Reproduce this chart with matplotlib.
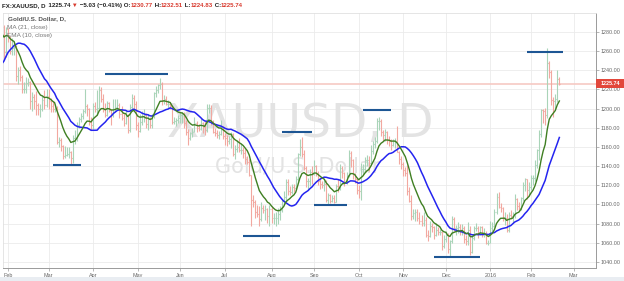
import numpy as np
import pandas as pd
import matplotlib
matplotlib.use("Agg")
import matplotlib.pyplot as plt
from matplotlib.collections import LineCollection
from matplotlib.patches import Rectangle

# ---------------- data (daily OHLC, Dec 29 2014 .. Feb 19 2016) ----------------
opens = [
    1195, 1181, 1200,  # Dec 2014
    1184, 1186, 1204, 1219, 1211, 1208, 1216, 1233, 1234, 1229, 1263, 1277, 1277, 1294, 1294, 1301, 1293, 1280, 1292, 1285, 1259,  # Jan
    1283, 1275, 1260, 1263, 1264, 1234, 1240, 1233, 1220, 1220, 1227, 1228, 1208, 1212, 1208, 1204, 1199, 1200, 1209, 1204,  # Feb
    1213, 1208, 1203, 1199, 1199, 1165, 1167, 1161, 1151, 1152, 1153, 1155, 1148, 1169, 1169, 1183, 1189, 1192, 1197, 1203, 1199, 1186,  # Mar
    1183, 1203, 1200, 1201, 1219, 1210, 1200, 1193, 1206, 1198, 1193, 1199, 1202, 1204, 1194, 1190, 1185, 1193, 1178, 1202, 1211, 1205,  # Apr
    1183, 1177, 1186, 1192, 1193, 1184, 1189, 1183, 1192, 1216, 1219, 1225, 1226, 1208, 1210, 1205, 1205, 1203, 1186, 1187, 1188,  # May
    1190, 1193, 1194, 1185, 1176, 1169, 1174, 1176, 1185, 1180, 1179, 1185, 1181, 1178, 1201, 1201, 1185, 1176, 1174, 1172, 1173, 1179,  # Jun
    1171, 1169, 1166, 1168, 1173, 1153, 1158, 1160, 1157, 1157, 1154, 1147, 1144, 1131, 1105, 1103, 1092, 1090, 1085, 1096, 1094, 1095, 1088,  # Jul
    1095, 1086, 1086, 1086, 1090, 1094, 1104, 1108, 1123, 1114, 1113, 1118, 1117, 1127, 1153, 1160, 1153, 1138, 1124, 1124, 1134,  # Aug
    1132, 1140, 1133, 1124, 1121, 1120, 1121, 1105, 1110, 1104, 1107, 1103, 1119, 1118, 1138, 1133, 1123, 1131, 1154, 1146, 1132, 1127,  # Sep
    1115, 1114, 1137, 1137, 1146, 1146, 1143, 1156, 1163, 1166, 1187, 1187, 1176, 1172, 1176, 1167, 1166, 1162, 1166, 1166, 1155, 1147,  # Oct
    1142, 1136, 1133, 1114, 1104, 1088, 1091, 1092, 1086, 1083, 1081, 1084, 1068, 1067, 1077, 1076, 1068, 1073, 1071, 1071, 1057,  # Nov
    1064, 1068, 1053, 1062, 1085, 1075, 1075, 1076, 1072, 1075, 1064, 1062, 1073, 1050, 1065, 1075, 1075, 1069, 1076, 1068, 1069, 1060,  # Dec
    1060, 1075, 1078, 1092, 1108, 1097, 1096, 1086, 1086, 1073, 1089, 1088, 1089, 1106, 1098, 1096, 1107, 1120, 1126, 1115,  # Jan 2016
    1118, 1128, 1128, 1141, 1157, 1173, 1198, 1197, 1193, 1247, 1238, 1209, 1208, 1210, 1230.77,  # Feb 2016
]
highs = [
    1198, 1202, 1202,
    1195, 1206, 1223, 1221, 1214, 1223, 1234, 1247, 1242, 1266, 1281, 1282, 1297, 1299, 1307, 1304, 1298, 1294, 1294, 1287, 1285,
    1284, 1276, 1274, 1269, 1266, 1243, 1244, 1235, 1228, 1233, 1232, 1229, 1217, 1215, 1218, 1206, 1205, 1213, 1219, 1220,
    1220, 1211, 1208, 1205, 1203, 1170, 1169, 1162, 1161, 1160, 1160, 1156, 1172, 1178, 1186, 1191, 1195, 1199, 1220, 1205, 1201, 1191,
    1206, 1207, 1219, 1224, 1222, 1215, 1206, 1208, 1207, 1200, 1210, 1210, 1210, 1206, 1203, 1195, 1198, 1194, 1205, 1215, 1214, 1208,
    1186, 1194, 1197, 1199, 1195, 1194, 1191, 1194, 1217, 1223, 1226, 1232, 1228, 1214, 1213, 1209, 1207, 1204, 1191, 1190, 1193,
    1196, 1196, 1196, 1188, 1179, 1176, 1180, 1191, 1187, 1184, 1190, 1186, 1187, 1205, 1205, 1204, 1188, 1180, 1178, 1177, 1188, 1182,
    1174, 1172, 1171, 1175, 1174, 1162, 1167, 1169, 1164, 1160, 1158, 1150, 1147, 1131, 1110, 1105, 1099, 1098, 1102, 1099, 1099, 1096, 1099,
    1097, 1091, 1092, 1096, 1098, 1106, 1114, 1126, 1126, 1119, 1121, 1121, 1130, 1154, 1168, 1170, 1157, 1140, 1128, 1137, 1140,
    1146, 1141, 1135, 1128, 1124, 1125, 1125, 1112, 1111, 1110, 1110, 1121, 1127, 1142, 1140, 1134, 1134, 1157, 1156, 1147, 1133, 1128,
    1120, 1143, 1142, 1149, 1152, 1150, 1162, 1166, 1170, 1190, 1191, 1189, 1178, 1179, 1177, 1171, 1168, 1168, 1169, 1182, 1156, 1150,
    1144, 1139, 1141, 1118, 1110, 1095, 1095, 1095, 1092, 1089, 1092, 1087, 1073, 1083, 1081, 1077, 1081, 1076, 1074, 1072, 1068,
    1072, 1070, 1063, 1088, 1087, 1079, 1082, 1080, 1080, 1077, 1068, 1082, 1078, 1068, 1078, 1081, 1077, 1078, 1078, 1075, 1072, 1063,
    1083, 1082, 1095, 1112, 1113, 1101, 1097, 1092, 1090, 1092, 1094, 1092, 1111, 1107, 1102, 1108, 1123, 1128, 1127, 1123,
    1131, 1131, 1146, 1158, 1178, 1200, 1200, 1201, 1263, 1250, 1240, 1212, 1215, 1240, 1232.51,
]
lows = [
    1178, 1178, 1180,
    1167, 1180, 1202, 1206, 1203, 1203, 1216, 1226, 1223, 1228, 1260, 1272, 1272, 1285, 1279, 1289, 1275, 1276, 1279, 1252, 1254,
    1269, 1257, 1256, 1256, 1229, 1226, 1229, 1216, 1216, 1216, 1224, 1200, 1197, 1199, 1193, 1193, 1191, 1197, 1200, 1202,
    1200, 1196, 1196, 1196, 1163, 1160, 1156, 1147, 1148, 1150, 1148, 1142, 1143, 1163, 1166, 1180, 1186, 1189, 1195, 1192, 1183, 1178,
    1179, 1196, 1193, 1199, 1207, 1196, 1191, 1192, 1196, 1183, 1191, 1196, 1198, 1190, 1188, 1182, 1184, 1174, 1176, 1198, 1198, 1178,
    1170, 1175, 1183, 1186, 1180, 1178, 1180, 1180, 1190, 1212, 1216, 1220, 1204, 1205, 1204, 1201, 1200, 1184, 1184, 1182, 1185,
    1185, 1185, 1180, 1172, 1162, 1167, 1170, 1175, 1175, 1177, 1178, 1174, 1172, 1176, 1195, 1183, 1174, 1171, 1169, 1168, 1172, 1168,
    1162, 1161, 1163, 1159, 1150, 1147, 1155, 1155, 1153, 1148, 1142, 1142, 1130, 1078, 1097, 1086, 1087, 1077, 1083, 1091, 1084, 1081, 1077,
    1081, 1080, 1077, 1080, 1084, 1092, 1100, 1104, 1110, 1110, 1111, 1113, 1115, 1124, 1150, 1149, 1136, 1118, 1115, 1119, 1121,
    1131, 1130, 1120, 1116, 1117, 1114, 1103, 1100, 1101, 1102, 1101, 1102, 1113, 1115, 1128, 1119, 1121, 1129, 1139, 1127, 1122, 1111,
    1107, 1105, 1131, 1134, 1140, 1135, 1141, 1153, 1159, 1164, 1178, 1171, 1166, 1166, 1163, 1161, 1157, 1161, 1159, 1155, 1142, 1137,
    1130, 1130, 1110, 1102, 1084, 1085, 1083, 1083, 1080, 1077, 1078, 1066, 1062, 1066, 1071, 1064, 1067, 1068, 1068, 1052, 1055,
    1061, 1049, 1046, 1060, 1072, 1068, 1070, 1068, 1068, 1060, 1058, 1058, 1047, 1049, 1063, 1072, 1065, 1068, 1066, 1066, 1059, 1058,
    1060, 1071, 1076, 1090, 1096, 1092, 1083, 1079, 1071, 1071, 1085, 1081, 1086, 1094, 1093, 1094, 1104, 1114, 1106, 1109,
    1115, 1120, 1124, 1138, 1146, 1170, 1185, 1183, 1190, 1232, 1204, 1191, 1200, 1207, 1224.83,
]
closes = [
    1181, 1200, 1184,
    1186, 1204, 1219, 1211, 1208, 1216, 1233, 1234, 1229, 1263, 1277, 1277, 1294, 1294, 1301, 1293, 1280, 1292, 1285, 1259, 1283,
    1275, 1260, 1263, 1264, 1234, 1240, 1233, 1220, 1220, 1227, 1228, 1208, 1212, 1208, 1204, 1199, 1200, 1209, 1204, 1213,
    1208, 1203, 1199, 1199, 1165, 1167, 1161, 1151, 1152, 1153, 1155, 1148, 1169, 1169, 1183, 1189, 1192, 1197, 1203, 1199, 1186, 1183,
    1203, 1200, 1201, 1219, 1210, 1200, 1193, 1206, 1198, 1193, 1199, 1202, 1204, 1194, 1190, 1185, 1193, 1178, 1202, 1211, 1205, 1183,
    1177, 1186, 1192, 1193, 1184, 1189, 1183, 1192, 1216, 1219, 1225, 1226, 1208, 1210, 1205, 1205, 1203, 1186, 1187, 1188, 1190,
    1193, 1194, 1185, 1176, 1169, 1174, 1176, 1185, 1180, 1179, 1185, 1181, 1178, 1201, 1201, 1185, 1176, 1174, 1172, 1173, 1179, 1171,
    1169, 1166, 1168, 1173, 1153, 1158, 1160, 1157, 1157, 1154, 1147, 1144, 1131, 1105, 1103, 1092, 1090, 1085, 1096, 1094, 1095, 1088, 1095,
    1086, 1086, 1086, 1090, 1094, 1104, 1108, 1123, 1114, 1113, 1118, 1117, 1127, 1153, 1160, 1153, 1138, 1124, 1124, 1134, 1132,
    1140, 1133, 1124, 1121, 1120, 1121, 1105, 1110, 1104, 1107, 1103, 1119, 1118, 1138, 1133, 1123, 1131, 1154, 1146, 1132, 1127, 1115,
    1114, 1137, 1137, 1146, 1146, 1143, 1156, 1163, 1166, 1187, 1187, 1176, 1172, 1176, 1167, 1166, 1162, 1166, 1166, 1155, 1147, 1142,
    1136, 1133, 1114, 1104, 1088, 1091, 1092, 1086, 1083, 1081, 1084, 1068, 1067, 1077, 1076, 1068, 1073, 1071, 1071, 1057, 1064,
    1068, 1053, 1062, 1085, 1075, 1075, 1076, 1072, 1075, 1064, 1062, 1073, 1050, 1065, 1075, 1075, 1069, 1076, 1068, 1069, 1060, 1060,
    1075, 1078, 1092, 1108, 1097, 1096, 1086, 1086, 1073, 1089, 1088, 1089, 1106, 1098, 1096, 1107, 1120, 1126, 1115, 1118,
    1128, 1128, 1141, 1157, 1173, 1198, 1197, 1193, 1247, 1238, 1209, 1208, 1210, 1230.77, 1225.74,
]

# horizontal support / resistance marks drawn on the chart
level_starts = ["2015-03-04", "2015-04-09", "2015-07-14", "2015-08-10", "2015-09-01",
                "2015-10-05", "2015-11-23", "2016-01-28"]
level_ends = ["2015-03-24", "2015-05-22", "2015-08-07", "2015-08-31", "2015-09-23",
              "2015-10-23", "2015-12-24", "2016-02-23"]
level_values = [1141, 1236, 1067, 1175.5, 1099.5, 1198, 1045, 1259]

last_price = 1225.74
y_ticks = list(range(1040, 1281, 20))
month_names = ["Jan", "Feb", "Mar", "Apr", "May", "Jun", "Jul", "Aug", "Sep", "Oct", "Nov", "Dec"]

# ---------------- trading-day axis ----------------
days = pd.bdate_range("2014-12-29", "2016-03-31")
days = days[~days.isin(pd.to_datetime(["2015-01-01", "2015-12-25", "2016-01-01"]))]
n = len(closes)
assert len(opens) == len(highs) == len(lows) == n
pos = np.arange(n)

cl = pd.Series(closes, dtype=float)
sma21 = cl.rolling(21).mean()
ema10 = cl.ewm(span=10, adjust=False).mean()

W, H = 624, 281
fig = plt.figure(figsize=(W / 100, H / 100), dpi=100)
fig.patch.set_facecolor("white")
fig.patches.append(Rectangle((0, 0), 1, 4 / H, transform=fig.transFigure,
                             facecolor="#e9edf2", edgecolor="none"))

ax_l, ax_r, ax_t, ax_b = 3, 596, 13, 268
ax = fig.add_axes([ax_l / W, 1 - ax_b / H, (ax_r - ax_l) / W, (ax_b - ax_t) / H])

px_per_bar = 2.027
feb_idx = days.get_loc(pd.Timestamp("2015-02-02"))
x0 = feb_idx - (8 - ax_l) / px_per_bar
ax.set_xlim(x0, x0 + (ax_r - ax_l) / px_per_bar)
ax.set_ylim(1033.7, 1299.6)

# grid
tick_pos, tick_lab = [], []
for per in pd.period_range("2015-02", "2016-03", freq="M"):
    sel = np.where((days.year == per.year) & (days.month == per.month))[0]
    tick_pos.append(sel[0])
    tick_lab.append(str(per.year) if per.month == 1 else month_names[per.month - 1])
for tp in tick_pos:
    ax.axvline(tp, color="#ebebeb", lw=0.6, zorder=0)
for yt in y_ticks:
    ax.axhline(yt, color="#ebebeb", lw=0.6, zorder=0)

# watermark
ax.text(0.5008, 0.561, "XAUUSD, D", transform=ax.transAxes, ha="center", va="center",
        fontsize=34, color="#e3e3e3", family="DejaVu Sans", zorder=0.5)
ax.text(0.497, 0.40, "Gold/U.S. Dollar", transform=ax.transAxes, ha="center", va="center",
        fontsize=15, color="#e3e3e3", family="DejaVu Sans", zorder=0.5)

# last price line
ax.axhline(last_price, color="#f6c9c4", lw=1.2, zorder=1)

# OHLC bars
up_col, dn_col = "#a9d4b8", "#f2a8a0"
segs, cols = [], []
tick = 0.45
for i in range(n):
    c = up_col if closes[i] >= opens[i] else dn_col
    segs += [[(pos[i], lows[i]), (pos[i], highs[i])],
             [(pos[i] - tick, opens[i]), (pos[i], opens[i])],
             [(pos[i], closes[i]), (pos[i] + tick, closes[i])]]
    cols += [c, c, c]
ax.add_collection(LineCollection(segs, colors=cols, linewidths=0.8, zorder=2))

# moving averages
ax.plot(pos, sma21, color="#2424f0", lw=1.1, zorder=3)
ax.plot(pos, ema10, color="#3f7f22", lw=1.0, zorder=3)

# level marks
for s, e, v in zip(level_starts, level_ends, level_values):
    xs = days.get_loc(pd.Timestamp(s))
    xe = days.get_loc(pd.Timestamp(e))
    ax.plot([xs, xe], [v, v], color="#1d5694", lw=1.5, solid_capstyle="butt", zorder=4)

# axes styling
for side in ["top", "left"]:
    ax.spines[side].set_color("#e0e0e0")
    ax.spines[side].set_linewidth(0.6)
for side in ["right", "bottom"]:
    ax.spines[side].set_color("#9a9a9a")
    ax.spines[side].set_linewidth(0.7)

ax.set_xticks(tick_pos)
ax.set_xticklabels(tick_lab)
ax.yaxis.tick_right()
ax.set_yticks(y_ticks)
ax.set_yticklabels([f"{v:.2f}" for v in y_ticks])
ax.tick_params(axis="x", length=2, width=0.5, color="#9a9a9a", pad=1.5,
               labelsize=3.9, labelcolor="#666666")
ax.tick_params(axis="y", length=2, width=0.5, color="#9a9a9a", pad=1.2,
               labelsize=3.9, labelcolor="#666666")
for lab in ax.get_xticklabels() + ax.get_yticklabels():
    lab.set_family("Liberation Sans")

# last price badge on the axis
ytr = ax.get_yaxis_transform()
ax.add_patch(Rectangle((1.0, last_price - 4.6 / 0.959), 28 / (ax_r - ax_l), 9.2 / 0.959,
                       transform=ytr, clip_on=False, facecolor="#e2473b", edgecolor="none", zorder=6))
ax.text(1.0 + 14 / (ax_r - ax_l), last_price, f"{last_price:.2f}", transform=ytr,
        ha="center", va="center", fontsize=3.9, color="white", family="Liberation Sans",
        fontweight="bold", zorder=7, clip_on=False)

# legend text inside chart
ax.text(5 / (ax_r - ax_l), 1 - (19 - ax_t) / (ax_b - ax_t), "Gold/U.S. Dollar, D,",
        transform=ax.transAxes, fontsize=4.6, color="#555555", fontweight="bold",
        family="Liberation Sans", va="center", zorder=8)
ax.text(4 / (ax_r - ax_l), 1 - (27.7 - ax_t) / (ax_b - ax_t), "MA (21, close)",
        transform=ax.transAxes, fontsize=4.6, color="#777777",
        family="Liberation Sans", va="center", zorder=8)
ax.text(4 / (ax_r - ax_l), 1 - (35.7 - ax_t) / (ax_b - ax_t), "EMA (10, close)",
        transform=ax.transAxes, fontsize=4.6, color="#777777",
        family="Liberation Sans", va="center", zorder=8)

# header line
header = [("FX:XAUUSD, D", "#222222"), ("  1225.74", "#222222"), (" \u25bc", "#d83a2e"),
          (" \u22125.03 (\u22120.41%)", "#222222"), (" O:", "#222222"), ("1230.77", "#d83a2e"),
          (" H:", "#222222"), ("1232.51", "#d83a2e"), (" L:", "#222222"), ("1224.83", "#d83a2e"),
          (" C:", "#222222"), ("1225.74", "#d83a2e")]
fig.canvas.draw()
renderer = fig.canvas.get_renderer()
xpix = 1.5
for txt, col in header:
    fam = ["Liberation Sans", "DejaVu Sans"]
    t = fig.text(xpix / W, 1 - 5.5 / H, txt, fontsize=4.4, color=col, fontweight="bold",
                 family=fam, va="center", ha="left")
    bb = t.get_window_extent(renderer=renderer)
    xpix = bb.x1

fig.savefig("out.png", dpi=100, facecolor=fig.get_facecolor())
